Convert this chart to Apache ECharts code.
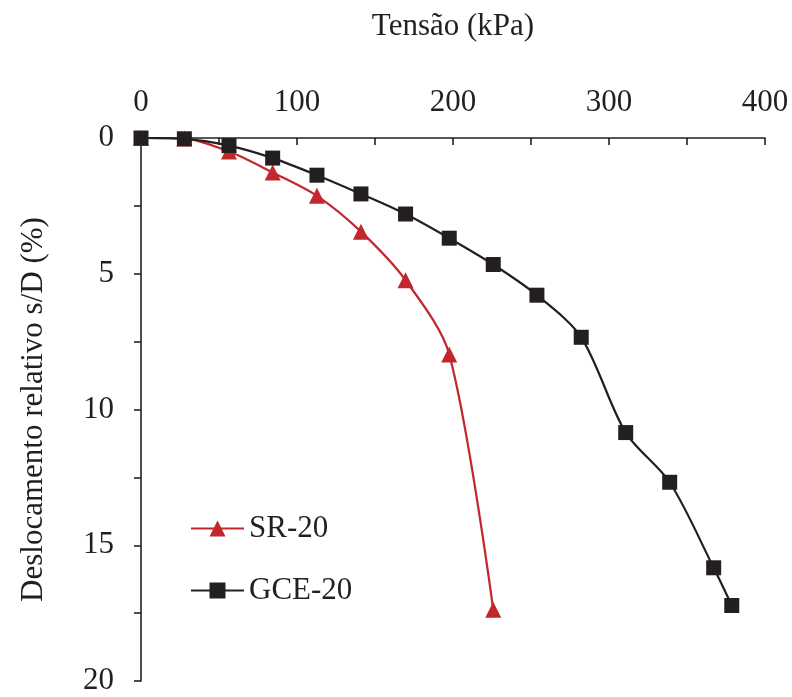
<!DOCTYPE html>
<html>
<head>
<meta charset="utf-8">
<script src="https://cdn.jsdelivr.net/npm/echarts@6/dist/echarts.min.js"></script>
<style>
  html, body { margin: 0; padding: 0; background: #fff; }
  #chart { width: 792px; height: 697px; }
</style>
</head>
<body>
<div id="chart"></div>
<script>
// Applied stress (kPa) for each load stage
const stress = [0, 27.8, 56.4, 84.4, 112.8, 141.0, 169.6, 197.6, 225.8, 253.8, 282.2, 310.7, 338.9, 367.1, 378.7];
// Relative settlement s/D (%)
const srDisp  = [0, 0.02, 0.5, 1.27, 2.13, 3.45, 5.24, 7.97, 17.38];
const gceDisp = [0, 0.03, 0.28, 0.74, 1.37, 2.06, 2.80, 3.69, 4.66, 5.79, 7.34, 10.85, 12.68, 15.83, 17.22];
const seriesNames = ['SR-20', 'GCE-20'];
const xTicks = [0, 100, 200, 300, 400];
const yTicks = [0, 5, 10, 15, 20];

const pairs = (ys) => ys.map((v, i) => [stress[i], v]);

const FONT = '"Liberation Serif", "Times New Roman", serif';
const FS = 31;
const INK = '#231f20';
const RED = '#c1272d';

const chart = echarts.init(document.getElementById('chart'), null, { renderer: 'canvas' });

chart.setOption({
  animation: false,
  backgroundColor: '#ffffff',
  grid: { left: 141, top: 138, width: 624, height: 543, containLabel: false },
  legend: {
    orient: 'vertical',
    left: 185,
    top: 508,
    itemGap: 31,
    itemWidth: 53,
    itemHeight: 20,
    data: seriesNames,
    textStyle: { fontFamily: FONT, fontSize: FS, color: INK, padding: [0, 0, 0, 0] }
  },
  xAxis: {
    type: 'value',
    position: 'top',
    min: 0, max: 400, interval: 50,
    name: 'Tensão (kPa)',
    nameLocation: 'middle',
    nameGap: 96,
    nameTextStyle: { fontFamily: FONT, fontSize: FS, color: INK },
    axisLine: { show: true, lineStyle: { color: INK, width: 1.6 } },
    axisTick: { show: true, inside: true, length: 7, lineStyle: { color: INK, width: 1.6 } },
    axisLabel: {
      fontFamily: FONT, fontSize: FS, color: INK, margin: 20,
      formatter: (v) => (xTicks.indexOf(v) >= 0 ? String(v) : '')
    },
    splitLine: { show: false }
  },
  yAxis: {
    type: 'value',
    inverse: true,
    min: 0, max: 20, interval: 2.5,
    name: 'Deslocamento relativo s/D (%)',
    nameLocation: 'middle',
    nameGap: 92,
    nameRotate: 90,
    nameTextStyle: { fontFamily: FONT, fontSize: FS, color: INK },
    axisLine: { show: true, lineStyle: { color: INK, width: 1.6 } },
    axisTick: { show: true, inside: false, length: 7, lineStyle: { color: INK, width: 1.6 } },
    axisLabel: {
      fontFamily: FONT, fontSize: FS, color: INK, margin: 27,
      formatter: (v) => (yTicks.indexOf(v) >= 0 ? String(v) : '')
    },
    splitLine: { show: false }
  },
  series: [
    {
      name: seriesNames[0],
      type: 'line',
      data: pairs(srDisp),
      smooth: 0.3,
      symbol: 'triangle',
      symbolSize: 16,
      lineStyle: { color: RED, width: 2.2 },
      itemStyle: { color: RED },
      z: 2
    },
    {
      name: seriesNames[1],
      type: 'line',
      data: pairs(gceDisp),
      smooth: 0.3,
      symbol: 'rect',
      symbolSize: 15,
      lineStyle: { color: INK, width: 2.2 },
      itemStyle: { color: INK },
      z: 3
    }
  ]
});
</script>
</body>
</html>
